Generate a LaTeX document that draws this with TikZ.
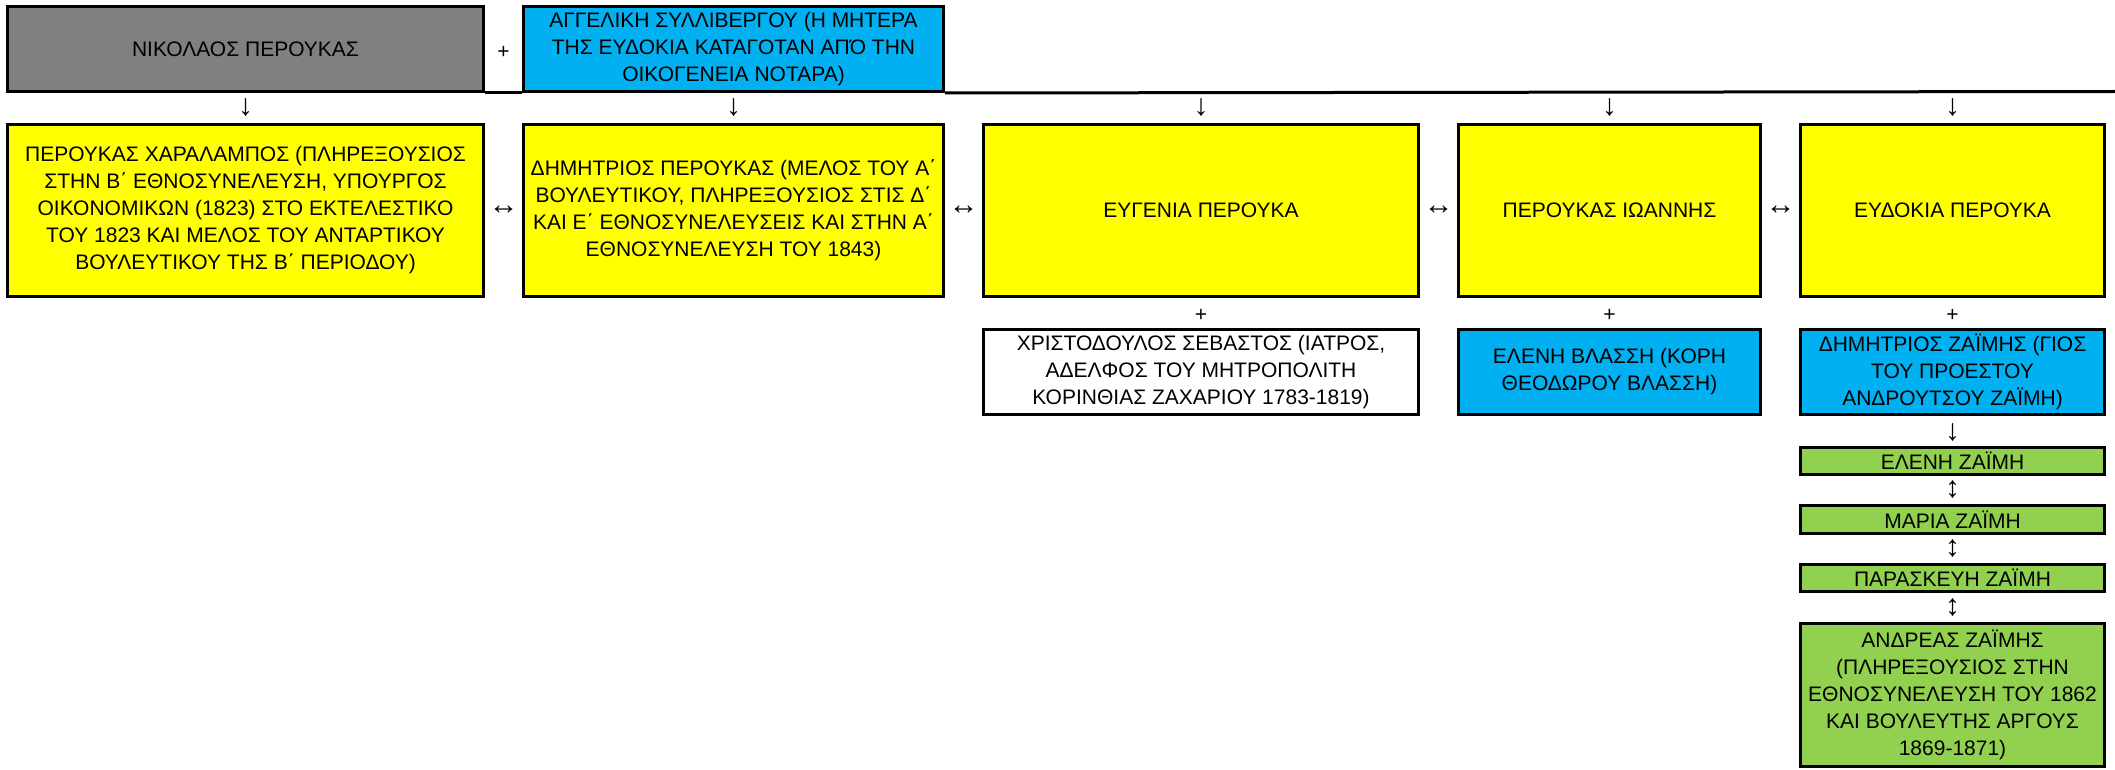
\documentclass[tikz,border=0pt]{standalone}
\usepackage{fontspec}
\setmainfont{Liberation Sans}
\usetikzlibrary{calc}
\definecolor{cgray}{HTML}{808080}
\definecolor{cblue}{HTML}{00B0F0}
\definecolor{cyel}{HTML}{FFFF00}
\definecolor{cgreen}{HTML}{92D050}
\begin{document}
\begin{tikzpicture}[x=1pt,y=-1pt,
  box/.style={draw=black, line width=3pt, rectangle, inner sep=1pt, align=center,
              font=\fontsize{21pt}{27pt}\selectfont, text=black},
  plus/.style={inner sep=0pt, font=\fontsize{21pt}{27pt}\selectfont, text=black},
  glyph/.style={inner sep=0pt, font=\fontsize{30pt}{30pt}\selectfont, text=black}]
\useasboundingbox (0,0) rectangle (2115,770);
\fill[white] (0,0) rectangle (2115,770);

% top row
\node[box, fill=cgray, minimum width=476pt, minimum height=85pt] (nik) at (245.5,49) {ΝΙΚΟΛΑΟΣ ΠΕΡΟΥΚΑΣ};
\node[box, fill=cblue, minimum width=420pt, minimum height=85pt] (ang) at (733.5,49)
  {ΑΓΓΕΛΙΚΗ ΣΥΛΛΙΒΕΡΓΟΥ (Η ΜΗΤΕΡΑ\\ΤΗΣ ΕΥΔΟΚΙΑ ΚΑΤΑΓΟΤΑΝ ΑΠΌ ΤΗΝ\\ΟΙΚΟΓΕΝΕΙΑ ΝΟΤΑΡΑ)};
\coordinate (lineend) at (2115,91.5);
\draw[black, line width=3pt] (nik.south east) -- (ang.south west);
\draw[black, line width=3pt] (ang.south east) -- (lineend);
\node[plus] at ($(nik.east)!0.5!(ang.west)+(0,3)$) {+};

% children row
\node[box, fill=cyel, minimum width=476pt, minimum height=172pt] (y1) at (245.5,210.5)
  {ΠΕΡΟΥΚΑΣ ΧΑΡΑΛΑΜΠΟΣ (ΠΛΗΡΕΞΟΥΣΙΟΣ\\ΣΤΗΝ Β΄ ΕΘΝΟΣΥΝΕΛΕΥΣΗ, ΥΠΟΥΡΓΟΣ\\ΟΙΚΟΝΟΜΙΚΩΝ (1823) ΣΤΟ ΕΚΤΕΛΕΣΤΙΚΟ\\ΤΟΥ 1823 ΚΑΙ ΜΕΛΟΣ ΤΟΥ ΑΝΤΑΡΤΙΚΟΥ\\ΒΟΥΛΕΥΤΙΚΟΥ ΤΗΣ Β΄ ΠΕΡΙΟΔΟΥ)};
\node[box, fill=cyel, minimum width=420pt, minimum height=172pt] (y2) at (733.5,210.5)
  {ΔΗΜΗΤΡΙΟΣ ΠΕΡΟΥΚΑΣ (ΜΕΛΟΣ ΤΟΥ Α΄\\ΒΟΥΛΕΥΤΙΚΟΥ, ΠΛΗΡΕΞΟΥΣΙΟΣ ΣΤΙΣ Δ΄\\ΚΑΙ Ε΄ ΕΘΝΟΣΥΝΕΛΕΥΣΕΙΣ ΚΑΙ ΣΤΗΝ Α΄\\ΕΘΝΟΣΥΝΕΛΕΥΣΗ ΤΟΥ 1843)};
\node[box, fill=cyel, minimum width=435pt, minimum height=172pt] (y3) at (1201,210.5) {ΕΥΓΕΝΙΑ ΠΕΡΟΥΚΑ};
\node[box, fill=cyel, minimum width=302pt, minimum height=172pt] (y4) at (1609.5,210.5) {ΠΕΡΟΥΚΑΣ ΙΩΑΝΝΗΣ};
\node[box, fill=cyel, minimum width=304pt, minimum height=172pt] (y5) at (1952.5,210.5) {ΕΥΔΟΚΙΑ ΠΕΡΟΥΚΑ};

\foreach \c in {y1,y2,y3,y4,y5}{
  \node[glyph] at ($(\c.north)+(0,-15)$) {↓};
}
\node[glyph] at ($(y1.east)!0.5!(y2.west)$) {↔};
\node[glyph] at ($(y2.east)!0.5!(y3.west)$) {↔};
\node[glyph] at ($(y3.east)!0.5!(y4.west)$) {↔};
\node[glyph] at ($(y4.east)!0.5!(y5.west)$) {↔};

% spouses
\node[box, fill=white, minimum width=435pt, minimum height=85pt] (s3) at (1201,372)
  {ΧΡΙΣΤΟΔΟΥΛΟΣ ΣΕΒΑΣΤΟΣ (ΙΑΤΡΟΣ,\\ΑΔΕΛΦΟΣ ΤΟΥ ΜΗΤΡΟΠΟΛΙΤΗ\\ΚΟΡΙΝΘΙΑΣ ΖΑΧΑΡΙΟΥ 1783-1819)};
\node[box, fill=cblue, minimum width=302pt, minimum height=85pt] (s4) at (1609.5,372)
  {ΕΛΕΝΗ ΒΛΑΣΣΗ (ΚΟΡΗ\\ΘΕΟΔΩΡΟΥ ΒΛΑΣΣΗ)};
\node[box, fill=cblue, minimum width=304pt, minimum height=85pt] (s5) at (1952.5,372)
  {ΔΗΜΗΤΡΙΟΣ ΖΑΪΜΗΣ (ΓΙΟΣ\\ΤΟΥ ΠΡΟΕΣΤΟΥ\\ΑΝΔΡΟΥΤΣΟΥ ΖΑΪΜΗ)};
\node[plus] at ($(y3.south)!0.5!(s3.north)+(0,2)$) {+};
\node[plus] at ($(y4.south)!0.5!(s4.north)+(0,2)$) {+};
\node[plus] at ($(y5.south)!0.5!(s5.north)+(0,2)$) {+};

% grandchildren
\node[box, fill=cgreen, minimum width=304pt, minimum height=27pt] (g1) at (1952.5,461) {ΕΛΕΝΗ ΖΑΪΜΗ};
\node[box, fill=cgreen, minimum width=304pt, minimum height=28pt] (g2) at (1952.5,519.5) {ΜΑΡΙΑ ΖΑΪΜΗ};
\node[box, fill=cgreen, minimum width=304pt, minimum height=27pt] (g3) at (1952.5,578) {ΠΑΡΑΣΚΕΥΗ ΖΑΪΜΗ};
\node[box, fill=cgreen, minimum width=304pt, minimum height=143pt] (g4) at (1952.5,695)
  {ΑΝΔΡΕΑΣ ΖΑΪΜΗΣ\\(ΠΛΗΡΕΞΟΥΣΙΟΣ ΣΤΗΝ\\ΕΘΝΟΣΥΝΕΛΕΥΣΗ ΤΟΥ 1862\\ΚΑΙ ΒΟΥΛΕΥΤΗΣ ΑΡΓΟΥΣ\\1869-1871)};
\node[glyph] at ($(s5.south)!0.5!(g1.north)+(0,2)$) {↓};
\node[glyph] at ($(g1.south)!0.5!(g2.north)$) {↕};
\node[glyph] at ($(g2.south)!0.5!(g3.north)$) {↕};
\node[glyph] at ($(g3.south)!0.5!(g4.north)$) {↕};
\end{tikzpicture}
\end{document}
